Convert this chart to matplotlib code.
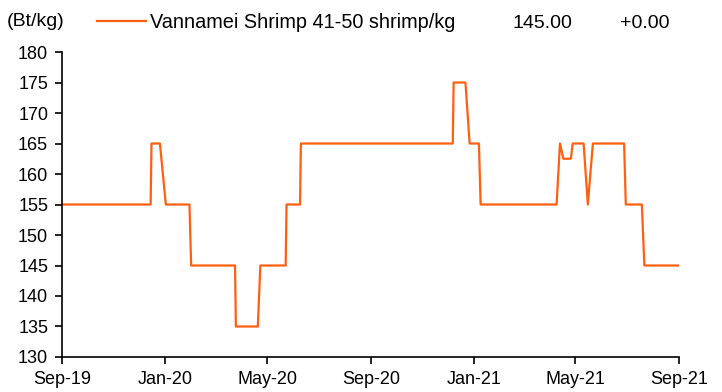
import matplotlib
matplotlib.use('Agg')
import matplotlib.pyplot as plt
import matplotlib.dates as mdates
import pandas as pd

matplotlib.rcParams['font.family'] = ['Liberation Sans', 'DejaVu Sans']
matplotlib.rcParams['font.size'] = 13

# price breakpoints (Bt/kg)
dates = [
    '2019-09-01', '2019-12-15', '2019-12-16', '2019-12-26', '2020-01-02',
    '2020-01-30', '2020-02-01', '2020-03-24', '2020-03-25', '2020-04-20',
    '2020-04-23', '2020-05-23', '2020-05-24', '2020-06-09', '2020-06-10',
    '2020-12-07', '2020-12-08', '2020-12-22', '2020-12-27', '2021-01-07',
    '2021-01-09', '2021-04-09', '2021-04-13', '2021-04-17', '2021-04-26',
    '2021-04-28', '2021-05-11', '2021-05-16', '2021-05-22', '2021-06-28',
    '2021-06-30', '2021-07-19', '2021-07-22', '2021-09-01',
]
prices = [
    155, 155, 165, 165, 155,
    155, 145, 145, 135, 135,
    145, 145, 155, 155, 165,
    165, 175, 175, 165, 165,
    155, 155, 165, 162.5, 162.5,
    165, 165, 155, 165, 165,
    155, 155, 145, 145,
]
series_name = 'Vannamei Shrimp 41-50 shrimp/kg'
last_value = '145.00'
change = '+0.00'
tick_dates = ['2019-09-01', '2020-01-01', '2020-05-01', '2020-09-01',
              '2021-01-01', '2021-05-01', '2021-09-01']
y_ticks = list(range(130, 181, 5))

LINE_COLOR = '#FF5F0F'
FS = 13

x = pd.to_datetime(dates)
fig = plt.figure(figsize=(7.22, 3.92), dpi=100)
ax = fig.add_axes([0.0859, 0.0893, 0.8545, 0.778])

ax.plot(x, prices, color=LINE_COLOR, linewidth=1.6)

ax.set_xlim(pd.Timestamp('2019-09-01'), pd.Timestamp('2021-09-01'))
ax.set_ylim(130, 180)
ax.set_yticks(y_ticks)
ax.set_xticks(pd.to_datetime(tick_dates))
ax.xaxis.set_major_formatter(mdates.DateFormatter('%b-%y'))

for side in ['top', 'right']:
    ax.spines[side].set_visible(False)
for side in ['left', 'bottom']:
    ax.spines[side].set_linewidth(1.2)
    ax.spines[side].set_color('black')

ax.tick_params(axis='both', direction='out', length=5, width=1.2, labelsize=FS,
               colors='black')
ax.tick_params(axis='y', pad=5)
ax.tick_params(axis='x', pad=5)

# header row: unit, legend, last value and change
fig.text(7 / 722, 1 - 22 / 392, '(Bt/kg)', fontsize=14, va='center', ha='left')
fig.add_artist(matplotlib.lines.Line2D([97 / 722, 146 / 722], [1 - 21 / 392, 1 - 21 / 392],
                                       color=LINE_COLOR, linewidth=1.6))
fig.text(150 / 722, 1 - 22 / 392, series_name, fontsize=14.3, va='center', ha='left')
fig.text(513 / 722, 1 - 24 / 392, last_value, fontsize=14, va='center', ha='left')
fig.text(620 / 722, 1 - 24 / 392, change, fontsize=14, va='center', ha='left')

fig.savefig('out.png', dpi=100, facecolor='white')
